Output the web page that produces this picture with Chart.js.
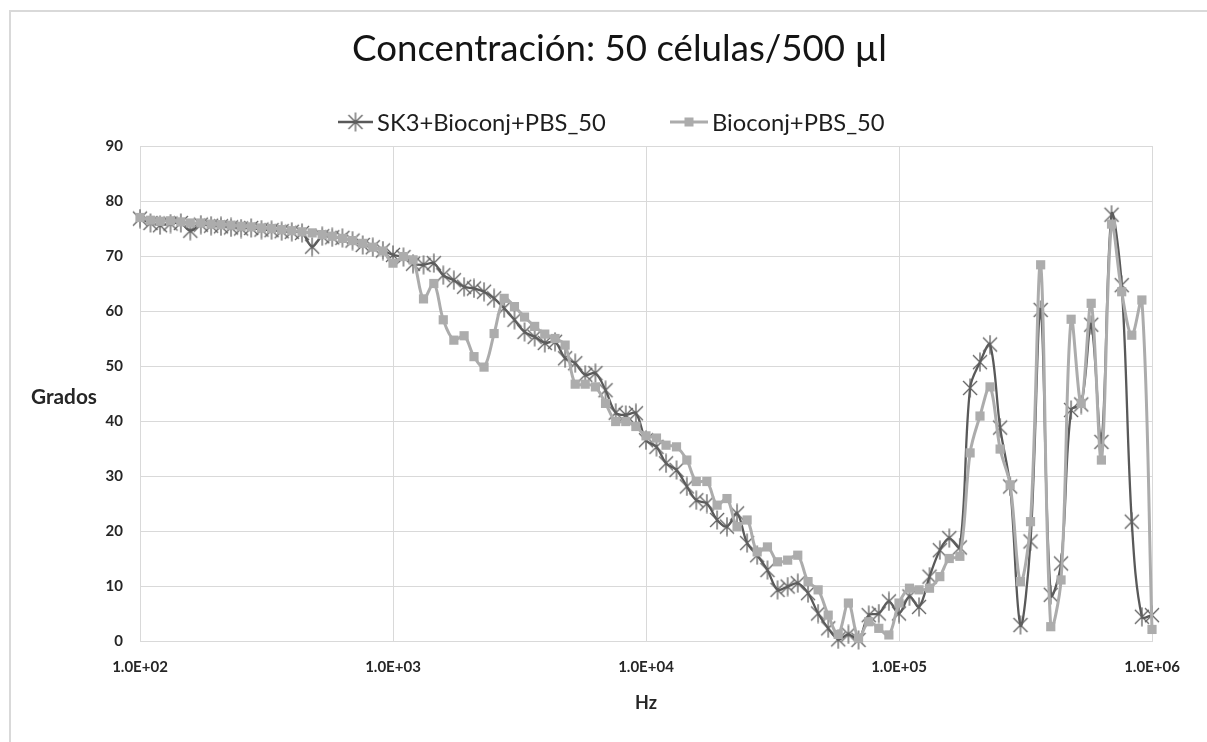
<!DOCTYPE html>
<html>
<head>
<meta charset="utf-8">
<script src="https://cdn.jsdelivr.net/npm/chart.js@4/dist/chart.umd.min.js"></script>
<style>
  html, body { margin: 0; padding: 0; background: #fff; }
  #wrap { width: 1207px; height: 742px; position: relative; }
</style>
</head>
<body>
<div id="wrap"><canvas id="c"></canvas></div>
<script>
// ---- Data ----
const titleText = 'Concentración: 50 células/500 µl';
const seriesNames = ['SK3+Bioconj+PBS_50', 'Bioconj+PBS_50'];
const xTitle = 'Hz';
const yTitle = 'Grados';
const xTickValues = [1e2, 1e3, 1e4, 1e5, 1e6];
const xTickLabels = ['1.0E+02', '1.0E+03', '1.0E+04', '1.0E+05', '1.0E+06'];

const freqs = [
  100,110,120,132,145,158,174,191,209,229,251,275,302,331,363,398,437,479,525,575,631,692,759,832,912,
  1000,1100,1200,1320,1450,1580,1740,1910,2090,2290,2510,2750,3020,3310,3630,3980,4370,4790,5250,5750,6310,6920,7590,8320,9120,
  10000,11000,12000,13200,14500,15800,17400,19100,20900,22900,25100,27500,30200,33100,36300,39800,43700,47900,52500,57500,63100,69200,75900,83200,91200,
  100000,110000,120000,132000,145000,158000,174000,191000,209000,229000,251000,275000,302000,331000,363000,398000,437000,479000,525000,575000,631000,692000,759000,832000,912000,
  1000000
];

const sk3 = [
  76.8,76.0,75.6,75.9,76.0,74.6,75.7,75.5,75.4,75.2,75.0,75.1,74.8,74.7,74.5,74.4,74.2,71.7,73.6,73.4,73.3,72.8,72.0,71.6,71.0,
  70.2,69.8,68.6,68.4,68.7,66.5,65.6,64.4,64.1,63.5,62.3,60.5,58.4,56.2,55.3,54.2,54.4,51.4,50.5,48.4,48.7,45.6,41.5,41.1,41.4,
  36.5,35.3,32.3,31.1,28.1,25.6,25.0,22.0,20.8,23.2,17.8,15.6,12.9,9.3,9.9,10.5,8.7,5.0,2.3,0.3,1.2,0.2,4.7,5.0,7.2,
  5.0,8.1,6.2,11.7,16.5,18.7,17.0,46.0,50.7,53.9,38.8,28.1,2.9,18.1,60.2,8.4,14.1,42.0,43.0,57.5,36.2,77.5,64.7,21.7,4.4,
  4.7
];

const bioconj = [
  77.0,76.5,76.3,76.4,76.2,76.0,76.0,75.8,75.7,75.6,75.4,75.3,75.1,75.0,74.8,74.6,74.4,74.2,73.9,73.6,73.2,72.8,72.3,71.6,70.9,
  68.7,69.9,69.3,62.2,65.0,58.4,54.7,55.5,51.7,49.8,55.9,62.3,60.8,58.9,57.2,55.8,55.0,53.8,46.7,46.7,46.2,43.2,39.9,39.9,39.0,
  37.3,36.9,35.6,35.3,32.9,29.0,29.0,24.7,25.9,20.8,22.0,16.2,17.1,14.4,14.7,15.6,10.8,9.3,4.7,1.2,6.9,0.5,3.5,2.3,1.1,
  6.9,9.6,9.3,9.6,11.7,15.0,15.4,34.2,40.9,46.2,34.9,28.4,10.8,21.7,68.4,2.6,11.1,58.5,43.2,61.4,32.9,75.8,63.5,55.6,62.0,
  2.1
];

// ---- Styles ----
const DARK = '#595959';
const GRAY = '#acacac';
const FONT = 'Lato, "Open Sans", sans-serif';

function makeStar(color) {
  const c = document.createElement('canvas');
  c.width = 20; c.height = 20;
  const g = c.getContext('2d');
  g.strokeStyle = color; g.lineWidth = 1.3;
  g.beginPath();
  g.moveTo(3, 3); g.lineTo(17, 17);
  g.moveTo(17, 3); g.lineTo(3, 17);
  g.moveTo(10, 0.5); g.lineTo(10, 19.5);
  g.stroke();
  return c;
}
const starImg = makeStar('#5f5f5f');

function fitFont(ctx, text, weight, base, target) {
  ctx.font = weight + ' ' + base + 'px ' + FONT;
  const s = base * target / ctx.measureText(text).width;
  return weight + ' ' + s.toFixed(2) + 'px ' + FONT;
}

const decor = {
  id: 'decor',
  beforeDraw(chart) {
    const ctx = chart.ctx;
    ctx.save();
    ctx.fillStyle = '#fff';
    ctx.fillRect(0, 0, chart.width, chart.height);
    ctx.strokeStyle = '#d9d9d9';
    ctx.lineWidth = 2;
    ctx.beginPath();
    ctx.moveTo(10, chart.height);
    ctx.lineTo(10, 11);
    ctx.lineTo(chart.width, 11);
    ctx.stroke();
    ctx.restore();
  },
  afterDraw(chart) {
    const ctx = chart.ctx;
    ctx.save();
    // Title
    ctx.font = fitFont(ctx, titleText, 'normal', 32, 535);
    ctx.fillStyle = '#141414';
    ctx.textAlign = 'center';
    ctx.textBaseline = 'middle';
    ctx.fillText(titleText, 619.5, 49);

    // Legend
    ctx.font = fitFont(ctx, seriesNames[0], 'normal', 22, 229);
    ctx.textAlign = 'left';
    const ly = 122;
    // item 1
    ctx.strokeStyle = DARK; ctx.lineWidth = 2.5;
    ctx.beginPath(); ctx.moveTo(338, ly); ctx.lineTo(373, ly); ctx.stroke();
    ctx.drawImage(starImg, 355.5 - 10, ly - 10);
    ctx.fillStyle = '#1e1e1e';
    ctx.fillText(seriesNames[0], 377, ly + 1);
    // item 2
    const x2 = 670;
    ctx.strokeStyle = GRAY; ctx.lineWidth = 3;
    ctx.beginPath(); ctx.moveTo(x2, ly); ctx.lineTo(x2 + 38, ly); ctx.stroke();
    ctx.fillStyle = GRAY;
    ctx.fillRect(x2 + 19 - 4.5, ly - 4.5, 9, 9);
    ctx.fillStyle = '#1e1e1e';
    ctx.fillText(seriesNames[1], x2 + 42, ly + 1);

    // Y axis title (horizontal)
    ctx.font = fitFont(ctx, yTitle, 'bold', 18, 66);
    ctx.textAlign = 'center';
    ctx.fillStyle = '#262626';
    ctx.fillText(yTitle, 64, 397);
    ctx.restore();
  }
};

new Chart(document.getElementById('c'), {
  type: 'line',
  data: {
    labels: freqs,
    datasets: [
      {
        label: seriesNames[0],
        data: sk3,
        borderColor: DARK,
        backgroundColor: DARK,
        borderWidth: 2.3,
        pointStyle: starImg,
        pointRadius: 9,
        tension: 0.35,
        clip: false,
        order: 1
      },
      {
        label: seriesNames[1],
        data: bioconj,
        borderColor: GRAY,
        backgroundColor: GRAY,
        pointBorderColor: GRAY,
        borderWidth: 3,
        pointStyle: 'rect',
        pointRadius: 6.5,
        pointBorderWidth: 0,
        tension: 0.35,
        clip: false,
        order: 0
      }
    ]
  },
  options: {
    responsive: true,
    maintainAspectRatio: false,
    animation: false,
    devicePixelRatio: 1,
    layout: { padding: { top: 146, left: 0, right: 55, bottom: 0 } },
    plugins: {
      legend: { display: false },
      title: { display: false },
      tooltip: { enabled: false }
    },
    scales: {
      x: {
        type: 'logarithmic',
        min: 100,
        max: 1000000,
        afterBuildTicks(scale) { scale.ticks = xTickValues.map(v => ({ value: v })); },
        afterFit(scale) { scale.height = 101; },
        grid: { color: '#d9d9d9', lineWidth: 1, drawTicks: false },
        border: { color: '#d9d9d9', width: 1 },
        ticks: {
          padding: 17,
          maxRotation: 0,
          autoSkip: false,
          color: '#262626',
          font: { family: FONT, size: 15, weight: 'bold' },
          callback: (v, i) => xTickLabels[i]
        },
        title: {
          display: true,
          text: xTitle,
          color: '#262626',
          font: { family: FONT, size: 18, weight: 'bold' },
          padding: { top: 0, bottom: 28 }
        }
      },
      y: {
        min: 0,
        max: 90,
        afterFit(scale) { scale.width = 140; },
        grid: { color: '#d9d9d9', lineWidth: 1, drawTicks: false },
        border: { color: '#d9d9d9', width: 1 },
        ticks: {
          stepSize: 10,
          padding: 17,
          color: '#262626',
          font: { family: FONT, size: 15, weight: 'bold' }
        }
      }
    }
  },
  plugins: [decor]
});
</script>
</body>
</html>
